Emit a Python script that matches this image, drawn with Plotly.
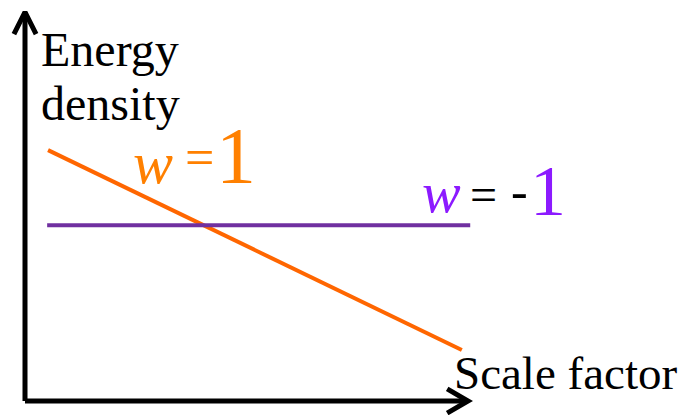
import plotly.graph_objects as go

# ---- data ----
scale_factor = [0.52, 9.86]          # stiff fluid (w = 1) segment
rho_stiff = [6.45, 1.31]
scale_factor_de = [0.50, 10.05]      # dark energy (w = -1) segment
rho_de = [4.52, 4.52]

axis_len_x = 10.0
axis_len_y = 10.0

x_label = "Scale factor"
y_label_1 = "Energy"
y_label_2 = "density"

ORANGE_LINE = "#FF6600"
PURPLE_LINE = "#7030A0"
ORANGE_TXT = "#FF8000"
PURPLE_TXT = "#8C1AFF"
FONT = "Liberation Serif, Times New Roman, serif"

fig = go.Figure()

# axes (arrows)
fig.add_trace(go.Scatter(x=[0, 0], y=[0, axis_len_y], mode="lines",
                         line=dict(color="black", width=5), hoverinfo="skip"))
fig.add_trace(go.Scatter(x=[0, axis_len_x], y=[0, 0], mode="lines",
                         line=dict(color="black", width=5), hoverinfo="skip"))
hx, hy = 0.25, 0.57
fig.add_trace(go.Scatter(x=[-hx, 0, hx], y=[axis_len_y - hy, axis_len_y, axis_len_y - hy],
                         mode="lines", line=dict(color="black", width=5), hoverinfo="skip"))
vx, vy = 0.47, 0.31
fig.add_trace(go.Scatter(x=[axis_len_x - vx, axis_len_x, axis_len_x - vx], y=[vy, 0, -vy],
                         mode="lines", line=dict(color="black", width=5), hoverinfo="skip"))

# series
fig.add_trace(go.Scatter(x=scale_factor, y=rho_stiff, mode="lines",
                         line=dict(color=ORANGE_LINE, width=4), hoverinfo="skip"))
fig.add_trace(go.Scatter(x=scale_factor_de, y=rho_de, mode="lines",
                         line=dict(color=PURPLE_LINE, width=4), hoverinfo="skip"))

def ann(x, y, text, size, color, xanchor="center", italic=False):
    fig.add_annotation(x=x, y=y, xref="x", yref="y", text=(f"<i>{text}</i>" if italic else text),
                       showarrow=False, xanchor=xanchor, yanchor="middle", borderpad=0,
                       font=dict(family=FONT, size=size, color=color))

# axis labels
ann(0.34, 9.03, y_label_1, 48, "black", xanchor="left")
ann(0.34, 7.65, y_label_2, 48, "black", xanchor="left")
ann(9.66, 0.72, x_label, 47, "black", xanchor="left")

# w = 1
ann(2.89, 6.12, "w", 60, ORANGE_TXT, italic=True)
ann(3.95, 6.27, "=", 52, ORANGE_TXT)
ann(4.76, 6.30, "1", 80, ORANGE_TXT)

# w = -1
ann(9.41, 5.37, "w", 58, PURPLE_TXT, italic=True)
ann(10.34, 5.31, "=", 48, "black")
ann(11.17, 5.40, "-", 50, "black")
ann(11.80, 5.41, "1", 72, PURPLE_TXT)

fig.update_layout(
    width=682, height=415,
    margin=dict(l=0, r=0, t=0, b=0),
    paper_bgcolor="white", plot_bgcolor="white",
    showlegend=False,
    xaxis=dict(range=[-25 / 44.3, (682 - 25) / 44.3], visible=False, fixedrange=True),
    yaxis=dict(range=[-(415 - 401) / 38.9, 10 + 12 / 38.9], visible=False, fixedrange=True),
)

fig.write_html("out.html", config={"displayModeBar": False},
               post_script="document.body.style.margin='0';")
